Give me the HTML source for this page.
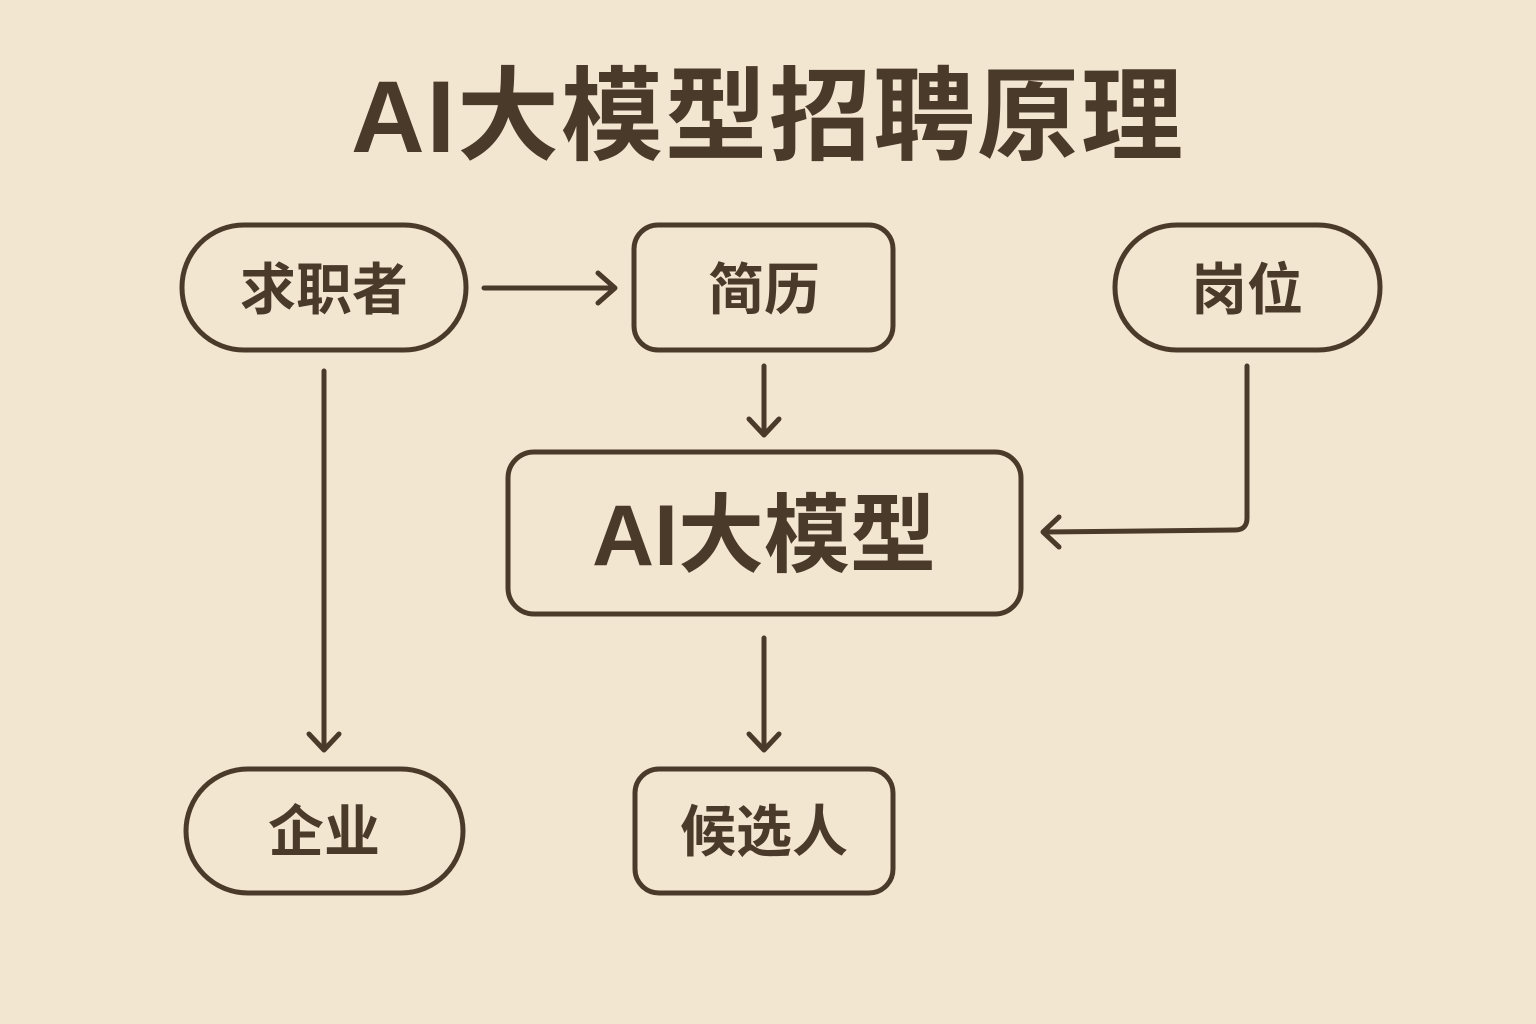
<!DOCTYPE html>
<html><head><meta charset="utf-8"><style>
html,body{margin:0;padding:0;background:#f3e6d1;}
svg{display:block}
text{font-family:"Liberation Sans","Noto Sans CJK SC",sans-serif;font-weight:bold;fill:#4a3a2a;text-anchor:middle;dominant-baseline:central}
</style></head><body>
<svg width="1536" height="1024" viewBox="0 0 1536 1024">
<rect width="1536" height="1024" fill="#f3e6d1"/>
<text x="768" y="117" font-size="102" letter-spacing="2">AI大模型招聘原理</text>
<g fill="none" stroke="#4a3a2a" stroke-width="5" stroke-linecap="round" stroke-linejoin="round">
<rect x="182" y="225" width="284" height="125" rx="62"/>
<rect x="634" y="225" width="259" height="125" rx="24"/>
<rect x="1115" y="225" width="265" height="125" rx="62"/>
<rect x="508" y="452" width="513" height="162" rx="26"/>
<rect x="186" y="769" width="277" height="124" rx="62"/>
<rect x="635" y="769" width="258" height="124" rx="24"/>
<path d="M484 288 H614 M598 273 L615 288 L598 303"/>
<path d="M764 366 V434 M749 419 L764 435 L779 419"/>
<path d="M1247 366 V518 Q1247 530 1235 530 L1045 532 M1059 517 L1043 532 L1059 547"/>
<path d="M324 371 V749 M309 734 L324 750 L339 734"/>
<path d="M764 638 V749 M749 734 L764 750 L779 734"/>
</g>
<text x="324" y="290" font-size="56">求职者</text>
<text x="764" y="290" font-size="56">简历</text>
<text x="1247" y="290" font-size="56">岗位</text>
<text x="764" y="536" font-size="86">AI大模型</text>
<text x="324" y="832" font-size="56">企业</text>
<text x="764" y="832" font-size="56">候选人</text>
</svg>
</body></html>
